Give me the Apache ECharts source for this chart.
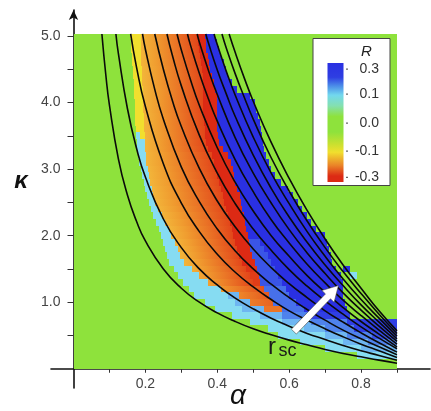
<!DOCTYPE html>
<html>
<head>
<meta charset="utf-8">
<script src="https://cdn.jsdelivr.net/npm/echarts/dist/echarts.min.js"></script>
<style>html,body{margin:0;padding:0;background:#fff;}#c{width:431px;height:411px;}</style>
</head>
<body>
<div id="c"></div>
<script>
// ---------------- data ----------------
const alphaTicks = [0.1,0.2,0.3,0.4,0.5,0.6,0.7,0.8,0.9];
const alphaLabels = [0.2,0.4,0.6,0.8];
const kappaTicks = [0.5,1.0,1.5,2.0,2.5,3.0,3.5,4.0,4.5,5.0];
const kappaLabels = [1.0,2.0,3.0,4.0,5.0];
const xTitle = 'α';
const yTitle = 'κ';
const alphaMax = 0.9;      // right edge of the computed field
const fieldTop = 5.03;     // top edge of the computed field
const rowHalf = 0.05;      // each field row covers kappa +- rowHalf

// black curves, [alpha, kappa] points
const curve1  = [[0.079,5.03],[0.09,4.41],[0.1,3.96],[0.125,3.15],[0.15,2.61],[0.175,2.22],[0.2,1.92],[0.25,1.5],[0.3,1.21],[0.35,1.0],[0.4,0.84],[0.45,0.71],[0.5,0.6],[0.55,0.51],[0.6,0.43],[0.65,0.36],[0.7,0.29],[0.75,0.23],[0.8,0.18],[0.85,0.13],[0.9,0.084]];
const curve2  = [[0.118,5.03],[0.125,4.73],[0.15,3.91],[0.175,3.32],[0.2,2.88],[0.25,2.25],[0.3,1.82],[0.35,1.5],[0.4,1.26],[0.45,1.06],[0.5,0.9],[0.55,0.76],[0.6,0.64],[0.65,0.53],[0.7,0.44],[0.75,0.35],[0.8,0.27],[0.85,0.2],[0.9,0.127]];
const curve3  = [[0.159,5.03],[0.175,4.54],[0.2,3.94],[0.25,3.08],[0.3,2.49],[0.35,2.06],[0.4,1.72],[0.45,1.45],[0.5,1.23],[0.55,1.04],[0.6,0.87],[0.65,0.73],[0.7,0.6],[0.75,0.48],[0.8,0.37],[0.85,0.27],[0.9,0.17]];
const curve4  = [[0.192,5.03],[0.2,4.8],[0.225,4.22],[0.25,3.75],[0.3,3.03],[0.35,2.51],[0.4,2.1],[0.45,1.77],[0.5,1.5],[0.55,1.27],[0.6,1.07],[0.65,0.89],[0.7,0.73],[0.75,0.58],[0.8,0.45],[0.85,0.33],[0.9,0.21]];
const curve5  = [[0.226,5.03],[0.25,4.5],[0.275,4.03],[0.3,3.64],[0.35,3.01],[0.4,2.52],[0.45,2.13],[0.5,1.8],[0.55,1.52],[0.6,1.28],[0.65,1.07],[0.7,0.87],[0.75,0.7],[0.8,0.54],[0.85,0.39],[0.9,0.25]];
const curve6  = [[0.26,5.03],[0.275,4.71],[0.3,4.25],[0.35,3.51],[0.4,2.94],[0.45,2.48],[0.5,2.1],[0.55,1.78],[0.6,1.49],[0.65,1.24],[0.7,1.02],[0.75,0.82],[0.8,0.63],[0.85,0.46],[0.9,0.3]];
const curve7  = [[0.288,5.03],[0.3,4.79],[0.325,4.35],[0.35,3.96],[0.4,3.32],[0.45,2.8],[0.5,2.37],[0.55,2.0],[0.6,1.69],[0.65,1.4],[0.7,1.15],[0.75,0.92],[0.8,0.71],[0.85,0.52],[0.9,0.33]];
const curve8  = [[0.317,5.03],[0.325,4.87],[0.35,4.44],[0.375,4.06],[0.4,3.72],[0.45,3.14],[0.5,2.66],[0.55,2.24],[0.6,1.89],[0.65,1.57],[0.7,1.29],[0.75,1.03],[0.8,0.8],[0.85,0.58],[0.9,0.37]];
const curve9  = [[0.344,5.03],[0.35,4.91],[0.375,4.49],[0.4,4.12],[0.45,3.47],[0.5,2.94],[0.55,2.49],[0.6,2.09],[0.65,1.74],[0.7,1.43],[0.75,1.14],[0.8,0.88],[0.85,0.64],[0.9,0.41]];
const curve10 = [[0.368,5.03],[0.375,4.9],[0.4,4.49],[0.425,4.13],[0.45,3.79],[0.5,3.21],[0.55,2.71],[0.6,2.28],[0.65,1.9],[0.7,1.56],[0.75,1.25],[0.8,0.96],[0.85,0.7],[0.9,0.45]];
const curve11 = [[0.391,5.03],[0.4,4.87],[0.425,4.47],[0.45,4.11],[0.5,3.48],[0.55,2.94],[0.6,2.48],[0.65,2.06],[0.7,1.69],[0.75,1.35],[0.8,1.04],[0.85,0.76],[0.9,0.49]];
const curve12 = [[0.413,5.03],[0.425,4.82],[0.45,4.43],[0.475,4.08],[0.5,3.75],[0.55,3.17],[0.6,2.67],[0.65,2.22],[0.7,1.82],[0.75,1.46],[0.8,1.13],[0.85,0.82],[0.9,0.53]];
const curve13 = [[0.433,5.03],[0.45,4.75],[0.475,4.37],[0.5,4.02],[0.55,3.4],[0.6,2.86],[0.65,2.38],[0.7,1.95],[0.75,1.56],[0.8,1.21],[0.85,0.87],[0.9,0.57]];
const curves = [curve1,curve2,curve3,curve4,curve5,curve6,curve7,curve8,curve9,curve10,curve11,curve12,curve13];

// R field, one row per kappa: [kappa, [alphaFrom, alphaTo, R] or [alphaFrom, alphaTo, Rleft, Rright], ...]; elsewhere R = 0
const fieldRows = [
 [5.0,[0.158,0.188,-0.1],[0.188,0.345,-0.14,-0.27],[0.345,0.365,-0.3],[0.365,0.395,0.3]],
 [4.9,[0.159,0.188,-0.1],[0.188,0.347,-0.14,-0.27],[0.347,0.368,-0.3],[0.368,0.40,0.3]],
 [4.8,[0.161,0.188,-0.1],[0.188,0.35,-0.14,-0.27],[0.35,0.37,-0.3],[0.37,0.405,0.3]],
 [4.7,[0.162,0.188,-0.1],[0.188,0.352,-0.14,-0.27],[0.352,0.373,-0.3],[0.373,0.41,0.3]],
 [4.6,[0.164,0.189,-0.1],[0.189,0.355,-0.14,-0.27],[0.355,0.377,-0.3],[0.377,0.42,0.3]],
 [4.5,[0.165,0.19,-0.1],[0.19,0.357,-0.14,-0.27],[0.357,0.381,-0.3],[0.381,0.425,0.3]],
 [4.4,[0.166,0.19,-0.1],[0.19,0.36,-0.14,-0.27],[0.36,0.386,-0.3],[0.386,0.43,0.3]],
 [4.3,[0.167,0.191,-0.1],[0.191,0.36,-0.14,-0.27],[0.36,0.39,-0.3],[0.39,0.44,0.3]],
 [4.2,[0.168,0.192,-0.1],[0.192,0.36,-0.14,-0.27],[0.36,0.395,-0.3],[0.395,0.455,0.3]],
 [4.1,[0.169,0.192,-0.1],[0.192,0.36,-0.14,-0.27],[0.36,0.40,-0.3],[0.40,0.49,0.3]],
 [4.0,[0.17,0.193,-0.1],[0.193,0.36,-0.14,-0.27],[0.36,0.40,-0.3],[0.40,0.505,0.3]],
 [3.9,[0.17,0.194,-0.1],[0.194,0.36,-0.14,-0.27],[0.36,0.40,-0.3],[0.40,0.508,0.3]],
 [3.8,[0.171,0.195,-0.1],[0.195,0.362,-0.14,-0.27],[0.362,0.40,-0.3],[0.40,0.512,0.3]],
 [3.7,[0.172,0.196,-0.1],[0.196,0.363,-0.14,-0.27],[0.363,0.40,-0.3],[0.40,0.518,0.3]],
 [3.6,[0.173,0.197,-0.1],[0.197,0.365,-0.14,-0.27],[0.365,0.40,-0.3],[0.40,0.522,0.3]],
 [3.5,[0.174,0.184,0.1],[0.184,0.198,-0.1],[0.198,0.367,-0.14,-0.27],[0.367,0.402,-0.3],[0.402,0.525,0.3]],
 [3.4,[0.176,0.199,0.1],[0.199,0.37,-0.14,-0.27],[0.37,0.405,-0.3],[0.405,0.527,0.3]],
 [3.3,[0.178,0.2,0.1],[0.2,0.375,-0.14,-0.27],[0.375,0.415,-0.3],[0.415,0.53,0.3]],
 [3.2,[0.18,0.201,0.1],[0.201,0.385,-0.14,-0.27],[0.385,0.43,-0.3],[0.43,0.535,0.3]],
 [3.1,[0.183,0.203,0.1],[0.203,0.39,-0.14,-0.27],[0.39,0.438,-0.3],[0.438,0.543,0.3]],
 [3.0,[0.187,0.206,0.1],[0.206,0.395,-0.14,-0.27],[0.395,0.443,-0.3],[0.443,0.55,0.3]],
 [2.9,[0.19,0.209,0.1],[0.209,0.40,-0.14,-0.27],[0.40,0.447,-0.3],[0.447,0.56,0.3]],
 [2.8,[0.195,0.213,0.1],[0.213,0.405,-0.14,-0.27],[0.405,0.45,-0.3],[0.45,0.578,0.3]],
 [2.7,[0.2,0.217,0.1],[0.217,0.41,-0.14,-0.27],[0.41,0.456,-0.3],[0.456,0.597,0.3]],
 [2.6,[0.205,0.222,0.1],[0.222,0.415,-0.14,-0.27],[0.415,0.462,-0.3],[0.462,0.61,0.3]],
 [2.5,[0.21,0.228,0.1],[0.228,0.42,-0.14,-0.27],[0.42,0.466,-0.3],[0.466,0.625,0.3]],
 [2.4,[0.215,0.235,0.1],[0.235,0.425,-0.14,-0.27],[0.425,0.47,-0.3],[0.47,0.635,0.3]],
 [2.3,[0.222,0.245,0.1],[0.245,0.43,-0.14,-0.27],[0.43,0.473,-0.3],[0.473,0.65,0.3]],
 [2.2,[0.23,0.255,0.1],[0.255,0.435,-0.14,-0.27],[0.435,0.477,-0.3],[0.477,0.66,0.3]],
 [2.1,[0.237,0.265,0.1],[0.265,0.44,-0.14,-0.27],[0.44,0.481,-0.3],[0.481,0.675,0.3]],
 [2.0,[0.243,0.272,0.1],[0.272,0.445,-0.14,-0.27],[0.445,0.485,-0.3],[0.485,0.70,0.3]],
 [1.9,[0.249,0.281,0.1],[0.281,0.45,-0.14,-0.27],[0.45,0.488,-0.3],[0.488,0.52,0.25],[0.52,0.705,0.3]],
 [1.8,[0.255,0.29,0.1],[0.29,0.455,-0.14,-0.27],[0.455,0.49,-0.3],[0.49,0.53,0.25],[0.53,0.71,0.3]],
 [1.7,[0.26,0.296,0.1],[0.296,0.46,-0.14,-0.27],[0.46,0.497,-0.3],[0.497,0.54,0.25],[0.54,0.717,0.3]],
 [1.6,[0.265,0.307,0.1],[0.307,0.47,-0.14,-0.27],[0.47,0.505,-0.3],[0.505,0.55,0.25],[0.55,0.72,0.3]],
 [1.5,[0.28,0.33,0.1],[0.33,0.48,-0.15,-0.27],[0.48,0.51,-0.29],[0.51,0.56,0.25],[0.56,0.73,0.3],[0.75,0.77,0.3]],
 [1.4,[0.29,0.35,0.1],[0.35,0.49,-0.16,-0.27],[0.49,0.515,-0.28],[0.515,0.57,0.25],[0.57,0.745,0.3],[0.77,0.79,0.1]],
 [1.3,[0.305,0.375,0.1],[0.375,0.50,-0.17,-0.27],[0.50,0.52,-0.28],[0.52,0.58,0.25],[0.58,0.75,0.3]],
 [1.2,[0.32,0.41,0.1],[0.41,0.53,-0.18,-0.26],[0.53,0.59,0.22],[0.59,0.75,0.3]],
 [1.1,[0.335,0.43,0.1],[0.43,0.46,0.15],[0.46,0.545,-0.2,-0.25],[0.545,0.6,0.22],[0.6,0.75,0.3]],
 [1.0,[0.365,0.45,0.1],[0.45,0.49,0.15],[0.49,0.555,-0.21,-0.24],[0.555,0.62,0.22],[0.62,0.755,0.3]],
 [0.9,[0.395,0.47,0.1],[0.47,0.53,0.15],[0.53,0.58,-0.22],[0.58,0.64,0.22],[0.64,0.76,0.3]],
 [0.8,[0.44,0.52,0.1],[0.52,0.58,0.15],[0.58,0.66,0.2],[0.66,0.77,0.28]],
 [0.7,[0.49,0.58,0.1],[0.58,0.66,0.15],[0.66,0.76,0.2],[0.76,0.9,0.28]],
 [0.6,[0.54,0.64,0.1],[0.64,0.70,0.15],[0.70,0.78,0.2],[0.78,0.9,0.28]],
 [0.5,[0.57,0.70,0.1],[0.70,0.76,0.15],[0.76,0.83,0.2],[0.83,0.9,0.26]],
 [0.4,[0.63,0.75,0.1],[0.75,0.82,0.15],[0.82,0.9,0.2]],
 [0.3,[0.70,0.8,0.1],[0.8,0.9,0.15]],
 [0.2,[0.79,0.9,0.1]]
];

// colour bar legend
const legendTitle = 'R';
const legendValues = [0.3, 0.1, 0.0, -0.1, -0.3];
const legendLabels = ['0.3', '0.1', '0.0', '-0.1', '-0.3'];

// annotation
const arrowFrom = [0.613, 0.558];
const arrowTo = [0.737, 1.25];
const rscText = ['r', 'sc'];
const rscPos = [[0.541, 0.328], [0.570, 0.272]];

// ---------------- styling ----------------
const FONT = "'Liberation Sans', Arial, sans-serif";
const colorStops = [[-0.3,'#dc2a14'],[-0.26,'#e4501c'],[-0.22,'#ea7426'],[-0.18,'#ef972e'],[-0.14,'#f2b53a'],[-0.1,'#f1df2e'],[-0.05,'#c2e036'],[0,'#8ee23c'],[0.05,'#88e0b4'],[0.1,'#86dcf2'],[0.15,'#6eb6f2'],[0.2,'#4f82ec'],[0.25,'#3a55e6'],[0.3,'#2a30e2']];
function hex(h){return [parseInt(h.slice(1,3),16),parseInt(h.slice(3,5),16),parseInt(h.slice(5,7),16)];}
function colorOf(v){
  if (v <= colorStops[0][0]) return colorStops[0][1];
  if (v >= colorStops[colorStops.length-1][0]) return colorStops[colorStops.length-1][1];
  for (let i=0;i<colorStops.length-1;i++){
    const a=colorStops[i], b=colorStops[i+1];
    if (v>=a[0] && v<=b[0]){
      const t=(v-a[0])/(b[0]-a[0]); const ca=hex(a[1]), cb=hex(b[1]);
      return 'rgb('+ca.map((c,j)=>Math.round(c+(cb[j]-c)*t)).join(',')+')';
    }
  }
}

// build field items: [a0, a1, k0, k1, v0, v1]
const fieldItems = [[0, alphaMax, 0, fieldTop, 0, 0]];
fieldRows.forEach(row => {
  const k = row[0];
  for (let i=1;i<row.length;i++){
    const s=row[i];
    fieldItems.push([s[0], s[1], k-rowHalf, Math.min(k+rowHalf, fieldTop), s[2], s.length>3?s[3]:s[2]]);
  }
});

const chart = echarts.init(document.getElementById('c'), null, {renderer:'canvas'});

const series = [{
  type:'custom', silent:true, clip:true, z:1,
  data: fieldItems,
  encode:{x:[0,1], y:[2,3]},
  renderItem:function(params, api){
    const a0=api.value(0), a1=api.value(1), k0=api.value(2), k1=api.value(3), v0=api.value(4), v1=api.value(5);
    const p0=api.coord([a0,k1]), p1=api.coord([a1,k0]);
    const x0=Math.round(p0[0]), y0=Math.round(p0[1]), x1=Math.round(p1[0]), y1=Math.round(p1[1]);
    let fill;
    if (v0===v1) fill=colorOf(v0);
    else {
      const stops=[]; const n=8;
      for (let i=0;i<=n;i++){ stops.push({offset:i/n, color:colorOf(v0+(v1-v0)*i/n)}); }
      fill=new echarts.graphic.LinearGradient(0,0,1,0,stops);
    }
    return {type:'rect', shape:{x:x0,y:y0,width:x1-x0,height:y1-y0}, style:{fill:fill}};
  }
}];
curves.forEach(c => series.push({
  type:'line', data:c, showSymbol:false, symbol:'none', smooth:0.5, silent:true, z:3,
  lineStyle:{color:'#0a0a0a', width:1.6}, clip:true
}));

chart.setOption({
  animation:false,
  backgroundColor:'#fff',
  grid:{left:51, right:1, top:10, bottom:23, containLabel:false, outerBoundsMode:'none'},
  xAxis:{
    type:'value', min:-0.0626, max:0.9918, splitLine:{show:false},
    axisLine:{onZero:true, lineStyle:{color:'#111', width:1.6}},
    axisTick:{customValues:alphaTicks, length:4, lineStyle:{color:'#333', width:1}},
    axisLabel:{customValues:alphaLabels, formatter:v=>v.toFixed(1), fontSize:14, color:'#444', margin:-11, fontFamily:FONT}
  },
  yAxis:{
    type:'value', min:-0.289, max:5.39, splitLine:{show:false},
    axisLine:{onZero:true, symbol:['none','arrow'], symbolSize:[7,10], lineStyle:{color:'#111', width:1.6}},
    axisTick:{customValues:kappaTicks, length:6, lineStyle:{color:'#333', width:1}},
    axisLabel:{customValues:kappaLabels, formatter:v=>v.toFixed(1), fontSize:14, color:'#444', margin:-9.5, fontFamily:FONT}
  },
  series:series
});

// ---------- graphics: axis titles, legend, annotation ----------
function arrowPoly(p1,p2,sw,hw,hl){
  const dx=p2[0]-p1[0], dy=p2[1]-p1[1], L=Math.hypot(dx,dy), ux=dx/L, uy=dy/L, nx=-uy, ny=ux;
  const bx=p2[0]-ux*hl, by=p2[1]-uy*hl;
  return [[p1[0]+nx*sw,p1[1]+ny*sw],[bx+nx*sw,by+ny*sw],[bx+nx*hw,by+ny*hw],[p2[0],p2[1]],[bx-nx*hw,by-ny*hw],[bx-nx*sw,by-ny*sw],[p1[0]-nx*sw,p1[1]-ny*sw]];
}
const pa = chart.convertToPixel({gridIndex:0}, arrowFrom);
const pb = chart.convertToPixel({gridIndex:0}, arrowTo);
const pr = chart.convertToPixel({gridIndex:0}, rscPos[0]);
const ps = chart.convertToPixel({gridIndex:0}, rscPos[1]);

const barX=327.5, barY=63, barW=16, barH=119;
const labelFrac=[0.05,0.26,0.505,0.74,0.96];
const barGrad = new echarts.graphic.LinearGradient(0,0,0,1,[
  {offset:0,color:'#2a30e2'},{offset:0.12,color:'#2e3ee2'},{offset:0.19,color:'#4a8ae8'},
  {offset:0.27,color:'#72d8ee'},{offset:0.36,color:'#84e0b0'},{offset:0.45,color:'#8ee23c'},
  {offset:0.58,color:'#8ee23c'},{offset:0.68,color:'#c8e030'},{offset:0.75,color:'#f1df2e'},
  {offset:0.86,color:'#ea8428'},{offset:0.95,color:'#dc2a14'},{offset:1,color:'#dc2a14'}]);

const graphics = [
  {type:'text', x:238, y:396, style:{text:xTitle, font:"italic 28px "+FONT, fill:'#111', align:'center', verticalAlign:'middle'}, z:12},
  {type:'text', x:21, y:181, style:{text:yTitle, font:"italic bold 24px "+FONT, fill:'#111', align:'center', verticalAlign:'middle'}, z:12},
  {type:'rect', shape:{x:313,y:38.5,width:77,height:147}, style:{fill:'#fff', stroke:'#444', lineWidth:1}, z:10},
  {type:'rect', shape:{x:barX,y:barY,width:barW,height:barH}, style:{fill:barGrad}, z:11},
  {type:'text', x:366.5, y:51.5, style:{text:legendTitle, font:"italic 15px "+FONT, fill:'#222', align:'center', verticalAlign:'middle'}, z:11}
];
legendLabels.forEach((t,i)=>{
  const y = barY + barH*labelFrac[i];
  graphics.push({type:'rect', shape:{x:346,y:y-0.5,width:2,height:1.2}, style:{fill:'#666'}, z:11});
  graphics.push({type:'text', x:379, y:y, style:{text:t, font:"14px "+FONT, fill:'#333', align:'right', verticalAlign:'middle'}, z:11});
});
graphics.push({type:'polygon', shape:{points:arrowPoly(pa,pb,3.5,8.5,15)}, style:{fill:'#fff', stroke:'rgba(70,70,70,0.7)', lineWidth:0.8}, z:12});
graphics.push({type:'text', x:pr[0], y:pr[1], style:{text:rscText[0], font:"24px "+FONT, fill:'#1a1a1a', align:'left', verticalAlign:'middle'}, z:12});
graphics.push({type:'text', x:ps[0], y:ps[1], style:{text:rscText[1], font:"18px "+FONT, fill:'#1a1a1a', align:'left', verticalAlign:'middle'}, z:12});

chart.setOption({graphic:graphics});
</script>
</body>
</html>
